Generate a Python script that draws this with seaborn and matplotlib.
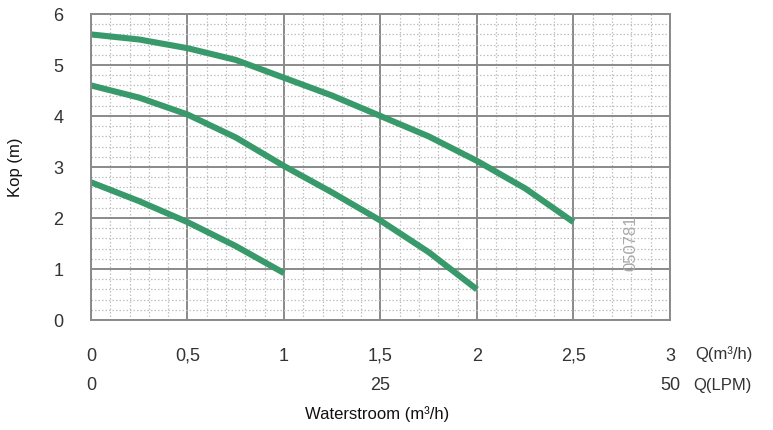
import numpy as np
import pandas as pd
import matplotlib.pyplot as plt
import seaborn as sns
from matplotlib.ticker import MultipleLocator
import matplotlib.transforms as mtransforms

sns.set_style("white")
plt.rcParams['font.family'] = ['Liberation Sans', 'DejaVu Sans']

# pump curves (flow m3/h, head m)
flow_high = [0, 0.25, 0.5, 0.75, 1.0, 1.25, 1.5, 1.75, 2.0, 2.25, 2.5]
head_high = [5.6, 5.5, 5.33, 5.1, 4.75, 4.4, 4.0, 3.6, 3.12, 2.58, 1.92]
flow_mid = [0, 0.25, 0.5, 0.75, 1.0, 1.25, 1.5, 1.75, 2.0]
head_mid = [4.6, 4.36, 4.03, 3.58, 3.02, 2.5, 1.95, 1.33, 0.6]
flow_low = [0, 0.25, 0.5, 0.75, 1.0]
head_low = [2.7, 2.33, 1.92, 1.45, 0.92]

m3h_ticks = [0, 0.5, 1, 1.5, 2, 2.5, 3]
m3h_labels = ['0', '0,5', '1', '1,5', '2', '2,5', '3']
lpm_pos = [0, 1.5, 3]
lpm_labels = ['0', '25', '50']

df = pd.concat([
    pd.DataFrame({'flow': flow_high, 'head': head_high, 'curve': 'high'}),
    pd.DataFrame({'flow': flow_mid, 'head': head_mid, 'curve': 'mid'}),
    pd.DataFrame({'flow': flow_low, 'head': head_low, 'curve': 'low'}),
])

fig = plt.figure(figsize=(7.73, 4.30), dpi=100)
ax = fig.add_axes([0.1177, 0.2558, 0.749, 0.7116])

green = '#389a6a'
sns.lineplot(data=df, x='flow', y='head', units='curve', estimator=None,
             color=green, linewidth=4.4, solid_capstyle='butt', ax=ax, legend=False)

ax.set_xlim(0, 3)
ax.set_ylim(0, 6)
ax.xaxis.set_major_locator(MultipleLocator(0.5))
ax.xaxis.set_minor_locator(MultipleLocator(0.1))
ax.yaxis.set_major_locator(MultipleLocator(1))
ax.yaxis.set_minor_locator(MultipleLocator(0.2))
ax.grid(which='major', color='#8a8a8a', linewidth=1.4, linestyle='-')
ax.grid(which='minor', color='#c0c0c0', linewidth=0.9, linestyle=(0, (1.2, 1.6)))
ax.set_axisbelow(True)
for s in ax.spines.values():
    s.set_color('#8a8a8a')
    s.set_linewidth(1.4)

ax.set_xticks(m3h_ticks)
ax.set_xticklabels(m3h_labels)
ax.tick_params(axis='x', which='major', direction='out', length=6, width=1.4,
               color='#8a8a8a', pad=14, labelsize=13, labelcolor='#333333')
ax.tick_params(axis='y', which='major', direction='out', length=8, width=1.4,
               color='#8a8a8a', pad=12, labelsize=13, labelcolor='#333333')
ax.tick_params(which='minor', length=0)

trans = mtransforms.blended_transform_factory(ax.transData, ax.transAxes)
for p, lab in zip(lpm_pos, lpm_labels):
    ax.text(p, -0.215, lab, transform=trans, ha='center', va='center',
            fontsize=13, color='#333333')
ax.text(3.13, -0.11, 'Q(m³/h)', transform=trans, ha='left', va='center',
        fontsize=12, color='#333333')
ax.text(3.12, -0.213, 'Q(LPM)', transform=trans, ha='left', va='center',
        fontsize=12, color='#333333')

ax.text(2.8, 1.5, '050781', rotation=90, ha='center', va='center',
        fontsize=12, color='#aaaaaa')

ax.set_xlabel('')
ax.set_ylabel('Kop (m)', fontsize=12, color='#111111', labelpad=22)
fig.text(0.4876, 0.038, 'Waterstroom (m³/h)', ha='center', va='center',
         fontsize=12, color='#111111')

fig.savefig('out.png', dpi=100)
